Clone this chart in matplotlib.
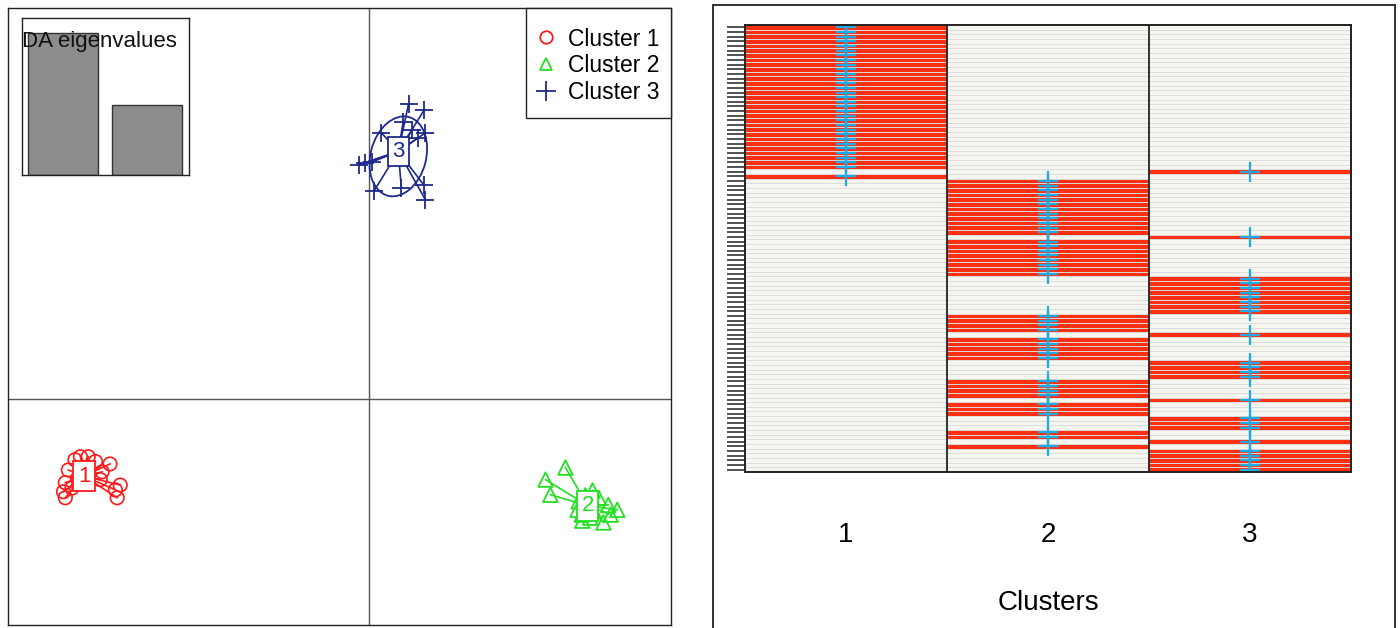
import numpy as np
import matplotlib
matplotlib.use("Agg")
import matplotlib.pyplot as plt
from matplotlib.patches import Ellipse, Rectangle
from matplotlib.lines import Line2D
from matplotlib.colors import LinearSegmentedColormap

plt.rcParams['font.family'] = ['Liberation Sans', 'DejaVu Sans']

# ---- data: DAPC scatter (LD1, LD2) ----
clusters = ["Cluster 1", "Cluster 2", "Cluster 3"]
cols = ["#ff1a1a", "#22e022", "#1c2a8c"]
marks = ["o", "^", "+"]

c1_x = [-4.79, -4.66, -4.88, -4.99, -4.30, -4.43, -4.13, -4.21, -4.18, -5.04, -5.07, -5.04, -4.46, -4.93, -4.54, -4.83]
c1_y = [-0.96, -0.96, -1.01, -1.18, -1.08, -1.21, -1.43, -1.51, -1.64, -1.39, -1.54, -1.64, -1.34, -1.48, -1.04, -1.31]
c2_x = [3.25, 2.92, 3.00, 3.70, 4.11, 3.88, 3.53, 3.45, 3.47, 3.96, 3.80, 3.66, 3.52, 4.00, 3.58, 3.72]
c2_y = [-1.14, -1.34, -1.59, -1.52, -1.84, -2.05, -2.02, -1.84, -1.70, -1.76, -1.64, -1.97, -1.92, -1.92, -1.60, -1.86]
c3_x = [0.65, 0.91, 0.93, 0.71, 0.20, -0.08, 0.05, 0.08, 0.53, 0.90, 0.93, 0.81, -0.18, 0.56]
c3_y = [4.89, 4.79, 4.41, 4.46, 4.41, 3.91, 3.93, 3.45, 3.50, 3.55, 3.30, 4.33, 3.88, 4.59]

cent_x = [-4.73, 3.62, 0.48]
cent_y = [-1.28, -1.77, 4.10]
ell_w = [0.35, 0.35, 0.92]
ell_h = [0.30, 0.35, 1.35]
ell_ang = [0, 0, -15]

eig = [100, 49.3]

# ---- data: assignment plot (rows top to bottom) ----
grp = ([1] * 31 + [3] + [1] + [2] * 12 + [3] + [2] * 8 + [3] * 8 + [2] * 4 + [3]
       + [2] * 5 + [3] * 4 + [2] * 4 + [3] + [2] * 3 + [3] * 3 + [2] * 2 + [3] + [2] + [3] * 5)
assigned = grp  # every individual is reassigned to its own cluster
n_ind = len(grp)
n_grp = 3

fig = plt.figure(figsize=(14, 6.28), dpi=100)

# ================= left: scatter =================
ax1 = fig.add_axes([8 / 1400, 3 / 628, 663 / 1400, 617 / 628])
ax1.set_xlim(-5.99, 5.0)
ax1.set_ylim(-3.75, 6.48)
ax1.set_xticks([])
ax1.set_yticks([])
for s in ax1.spines.values():
    s.set_linewidth(1.0)
    s.set_color("#222222")
ax1.axhline(0, color="#555555", lw=1.0, zorder=1)
ax1.axvline(0, color="#555555", lw=1.0, zorder=1)

pts = [(c1_x, c1_y), (c2_x, c2_y), (c3_x, c3_y)]
for k, (xs, ys) in enumerate(pts):
    for x, y in zip(xs, ys):
        ax1.plot([cent_x[k], x], [cent_y[k], y], color=cols[k], lw=1.2, zorder=2)
    ax1.add_patch(Ellipse((cent_x[k], cent_y[k] - (0.08 if k == 2 else 0)), ell_w[k], ell_h[k],
                          angle=ell_ang[k], fill=False, ec=cols[k], lw=1.3, zorder=2))
    if marks[k] == "o":
        ax1.scatter(xs, ys, s=95, facecolors="none", edgecolors=cols[k], linewidths=1.2, zorder=3)
    elif marks[k] == "^":
        ax1.scatter(xs, ys, s=110, marker="^", facecolors="none", edgecolors=cols[k], linewidths=1.3, zorder=3)
    else:
        ax1.scatter(xs, ys, s=170, marker="+", color=cols[k], linewidths=1.3, zorder=3)
    ax1.text(cent_x[k], cent_y[k], str(k + 1), color=cols[k], fontsize=16, ha="center", va="center",
             zorder=4, bbox=dict(boxstyle="square,pad=0.2", fc="white", ec=cols[k], lw=1.3))

# legend box drawn by hand, entries by legend()
ax1.add_patch(Rectangle((526 / 1400, 1 - 118 / 628), 145 / 1400, 110 / 628, transform=fig.transFigure,
                        fc="white", ec="#222222", lw=1.0, zorder=5, clip_on=False))
handles = []
for k in range(3):
    if marks[k] == "+":
        handles.append(Line2D([], [], ls="none", marker="+", ms=14, mew=1.3, color=cols[k], label=clusters[k]))
    else:
        handles.append(Line2D([], [], ls="none", marker=marks[k], ms=9, mfc="none", mec=cols[k], mew=1.3,
                              label=clusters[k]))
leg = ax1.legend(handles=handles, loc="upper left", bbox_to_anchor=(537 / 1400, 1 - 27.5 / 628),
                 bbox_transform=fig.transFigure, fontsize=16.5, frameon=False, borderaxespad=0,
                 borderpad=0, handletextpad=0.57, labelspacing=0.17, handlelength=0.8)
leg.set_zorder(6)

# inset eigenvalues
ax_in = fig.add_axes([22 / 1400, (628 - 175) / 628, 167 / 1400, 157 / 628])
ax_in.bar([0.7, 1.9], eig, width=1.0, color="#8c8c8c", edgecolor="#333333", lw=1.0)
ax_in.set_xlim(0.114, 2.5)
ax_in.set_ylim(0, 110.6)
ax_in.set_xticks([])
ax_in.set_yticks([])
for s in ax_in.spines.values():
    s.set_linewidth(1.0)
    s.set_color("#222222")
ax_in.text(0.0, 0.85, "DA eigenvalues", transform=ax_in.transAxes, fontsize=16, ha="left", va="center",
           color="#111111")

# ================= right: assignplot =================
ax2 = fig.add_axes([745 / 1400, 156 / 628, 606 / 1400, 447 / 628])
post = np.zeros((n_ind, n_grp))
for i, g in enumerate(assigned):
    post[i, g - 1] = 1.0
cmap = LinearSegmentedColormap.from_list("heat", ["#f6f6f1", "#ff3010"])
ax2.pcolormesh(np.arange(0.5, n_grp + 1, 1.0), np.arange(0, n_ind + 1), post, cmap=cmap,
               vmin=0, vmax=1, shading="flat")
for h in range(1, n_ind):
    ax2.axhline(h, color="#dcdcdc", lw=0.7)
for v in [1.5, 2.5]:
    ax2.axvline(v, color="#222222", lw=1.3)
ax2.plot(grp, np.arange(n_ind) + 0.5, ls="none", marker="+", ms=15, mew=1.6, color="#1eaae6")
ax2.set_xlim(0.5, 3.5)
ax2.set_ylim(n_ind, 0)
ax2.set_yticks(np.arange(n_ind) + 0.5)
ax2.set_yticklabels([])
ax2.tick_params(axis="y", length=13, width=1.1, color="#222222")
ax2.set_xticks([1, 2, 3])
ax2.set_xticklabels(["1", "2", "3"])
ax2.tick_params(axis="x", length=0, pad=36, labelsize=20)
ax2.set_xlabel("Clusters", fontsize=20, labelpad=30)
for s in ax2.spines.values():
    s.set_linewidth(1.4)
    s.set_color("#222222")

# frame around the right panel
for xs, ys in [([713, 713], [628, 5]), ([713, 1395], [5, 5]), ([1395, 1395], [5, 628])]:
    fig.add_artist(Line2D([x / 1400 for x in xs], [1 - y / 628 for y in ys], transform=fig.transFigure,
                          color="#333333", lw=1.4))

fig.savefig("out.png", dpi=100)
